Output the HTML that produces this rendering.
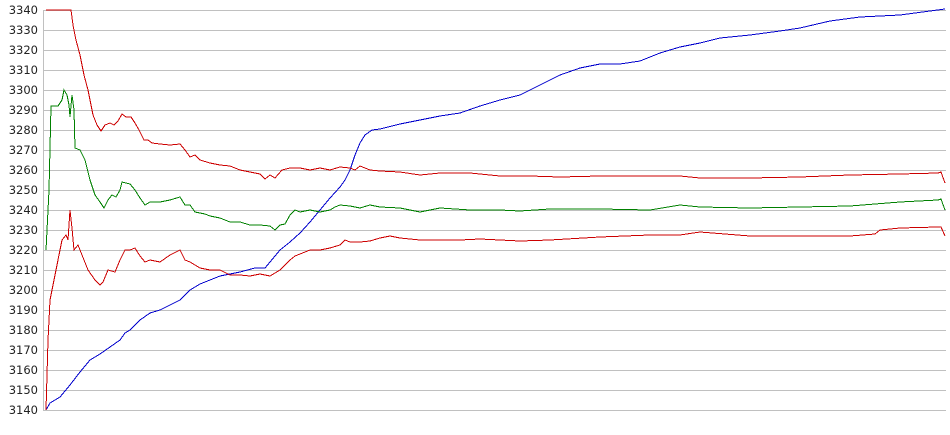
<!DOCTYPE html>
<html><head><meta charset="utf-8"><style>
html,body{margin:0;padding:0;background:#fff;width:950px;height:435px;overflow:hidden}
text{font-family:"DejaVu Sans","Liberation Sans",sans-serif;font-size:11.5px;fill:#222}
</style></head><body>
<svg width="950" height="435" xmlns="http://www.w3.org/2000/svg">
<g stroke="#c0c0c0" stroke-width="1" shape-rendering="crispEdges">
<line x1="43" y1="10.5" x2="946" y2="10.5"/><line x1="43" y1="30.5" x2="946" y2="30.5"/><line x1="43" y1="50.5" x2="946" y2="50.5"/><line x1="43" y1="70.5" x2="946" y2="70.5"/><line x1="43" y1="90.5" x2="946" y2="90.5"/><line x1="43" y1="110.5" x2="946" y2="110.5"/><line x1="43" y1="130.5" x2="946" y2="130.5"/><line x1="43" y1="150.5" x2="946" y2="150.5"/><line x1="43" y1="170.5" x2="946" y2="170.5"/><line x1="43" y1="190.5" x2="946" y2="190.5"/><line x1="43" y1="210.5" x2="946" y2="210.5"/><line x1="43" y1="230.5" x2="946" y2="230.5"/><line x1="43" y1="250.5" x2="946" y2="250.5"/><line x1="43" y1="270.5" x2="946" y2="270.5"/><line x1="43" y1="290.5" x2="946" y2="290.5"/><line x1="43" y1="310.5" x2="946" y2="310.5"/><line x1="43" y1="330.5" x2="946" y2="330.5"/><line x1="43" y1="350.5" x2="946" y2="350.5"/><line x1="43" y1="370.5" x2="946" y2="370.5"/><line x1="43" y1="390.5" x2="946" y2="390.5"/><line x1="43" y1="410.5" x2="946" y2="410.5"/>
<line x1="43.5" y1="10" x2="43.5" y2="411"/>
</g>
<g text-anchor="end">
<text x="38" y="14">3340</text><text x="38" y="34">3330</text><text x="38" y="54">3320</text><text x="38" y="74">3310</text><text x="38" y="94">3300</text><text x="38" y="114">3290</text><text x="38" y="134">3280</text><text x="38" y="154">3270</text><text x="38" y="174">3260</text><text x="38" y="194">3250</text><text x="38" y="214">3240</text><text x="38" y="234">3230</text><text x="38" y="254">3220</text><text x="38" y="274">3210</text><text x="38" y="294">3200</text><text x="38" y="314">3190</text><text x="38" y="334">3180</text><text x="38" y="354">3170</text><text x="38" y="374">3160</text><text x="38" y="394">3150</text><text x="38" y="414">3140</text>
</g>
<g fill="none" stroke-width="1" shape-rendering="crispEdges">
<polyline stroke="#0000cc" points="46,410 50,403 60,397 70,385 80,372 90,360 100,354 110,347 120,340 125,333 130,330 140,320 150,313 160,310 170,305 180,300 190,290 200,284 210,280 220,276 240,272 255,268 265,268 270,262 280,250 290,242 300,233 310,222 320,210 330,198 340,187 345,180 350,170 355,155 360,143 365,135 372,130 380,129 400,124 420,120 440,116 460,113 480,106 500,100 520,95 540,85 560,75 580,68 600,64 620,64 640,61 660,53 680,47 700,43 720,38 750,35 780,31 800,28 830,21 860,17 900,15 945,9"/>
<polyline stroke="#008000" points="46,250 49,190 51,106 58,106 62,100 64,90 67,95 69,105 70,117 72,95 74,110 75,148 80,150 85,160 90,180 95,195 100,202 104,208 108,200 112,195 116,197 120,190 122,182 130,184 135,190 140,198 145,205 150,202 160,202 170,200 180,197 185,205 190,205 195,212 205,214 210,216 220,218 230,222 240,222 250,225 260,225 270,226 275,230 280,225 285,224 290,215 295,210 300,212 310,210 320,212 330,210 335,207 340,205 350,206 360,208 370,205 380,207 400,208 420,212 440,208 470,210 500,210 520,211 550,209 600,209 650,210 680,205 700,207 750,208 800,207 850,206 900,202 938,200 941,199 945,210"/>
<polyline stroke="#cc0000" points="46,10 71,10 73,25 76,40 80,55 84,75 88,90 93,115 97,125 101,131 105,125 110,123 114,125 118,121 122,114 126,117 131,117 135,123 139,130 144,140 148,140 152,143 160,144 170,145 180,144 185,150 190,157 195,155 200,160 210,163 220,165 230,166 240,170 250,172 260,174 265,179 270,175 275,178 282,170 290,168 300,168 310,170 320,168 330,170 340,167 350,168 355,170 360,166 370,170 380,171 400,172 420,175 440,173 470,173 500,176 530,176 560,177 600,176 650,176 680,176 700,178 750,178 800,177 850,175 900,174 938,173 941,172 945,183"/>
<polyline stroke="#cc0000" points="46,410 48,340 50,300 54,280 58,260 62,240 66,235 68,240 70,210 72,228 74,250 78,245 82,255 88,270 95,280 100,285 103,282 108,270 115,272 120,260 125,250 130,250 135,248 140,256 145,262 150,260 160,262 170,255 180,250 185,260 190,262 195,265 200,268 210,270 220,270 230,275 240,275 250,276 260,274 270,276 275,273 280,270 285,265 290,260 295,256 300,254 310,250 320,250 330,248 340,245 345,240 350,242 360,242 370,241 380,238 390,236 400,238 420,240 440,240 460,240 480,239 500,240 520,241 550,240 600,237 650,235 680,235 700,232 750,236 800,236 850,236 875,234 880,230 900,228 938,227 941,227 945,236"/>
</g>
</svg>
</body></html>
